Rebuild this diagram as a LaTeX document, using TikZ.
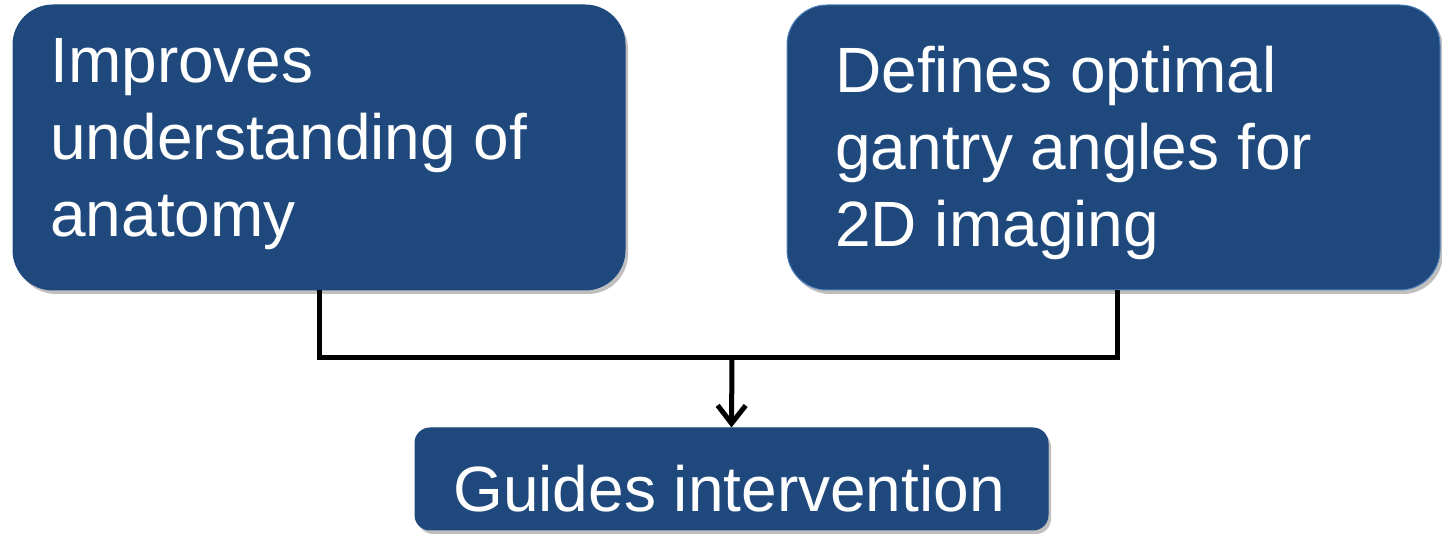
\documentclass[tikz,border=0pt]{standalone}
\usepackage{fontspec}
\setmainfont{Liberation Sans}
\usetikzlibrary{arrows.meta,shadows}
\definecolor{boxblue}{HTML}{1F497D}
\definecolor{edgeblue}{HTML}{4F81BD}
\tikzset{
  box/.style={fill=boxblue, draw=boxblue, line width=0.5pt, inner sep=0pt,
    drop shadow={shadow xshift=1.5pt, shadow yshift=-2pt, opacity=0.25, fill=black}},
  bigbox/.style={box, rounded corners=20pt},
  smallbox/.style={box, rounded corners=7.5pt},
  boxtext/.style={text=white, inner sep=0pt, anchor=base west, align=left,
    font=\fontsize{32pt}{38.5pt}\selectfont},
  conn/.style={line width=2.5pt, draw=black, line join=miter}
}
\begin{document}
\begin{tikzpicture}[x=0.5pt,y=-0.5pt]
\useasboundingbox (0,0) rectangle (1442,539);
\node[bigbox, minimum width=306pt, minimum height=142.5pt] (b1) at (319,147.5) {};
\node[bigbox, draw=edgeblue, minimum width=326.5pt, minimum height=142.5pt] (b2) at (1113.5,147.5) {};
\node[smallbox, minimum width=316.5pt, minimum height=51pt] (b3) at (731.5,479) {};
\node[boxtext] (t1a) at (50,83) {Improves};
\node[boxtext] (t1b) at (50,160) {understanding of};
\node[boxtext] (t1c) at (50,237) {anatomy};
\node[boxtext] (t2a) at (835,93) {Defines optimal};
\node[boxtext] (t2b) at (835,170) {gantry angles for};
\node[boxtext] (t2c) at (835,247) {2D imaging};
\node[boxtext] (t3) at (453,512) {Guides intervention};
\coordinate (j) at (732,358);
\draw[conn] (b1.south) -- (b1.south |- j) -- ([xshift=1.75pt]b2.south |- j) -- ([xshift=1.75pt]b2.south);
\draw[conn, -{Straight Barb[length=9pt,width=14pt]}] (j) -- (b3.north);
\end{tikzpicture}
\end{document}
